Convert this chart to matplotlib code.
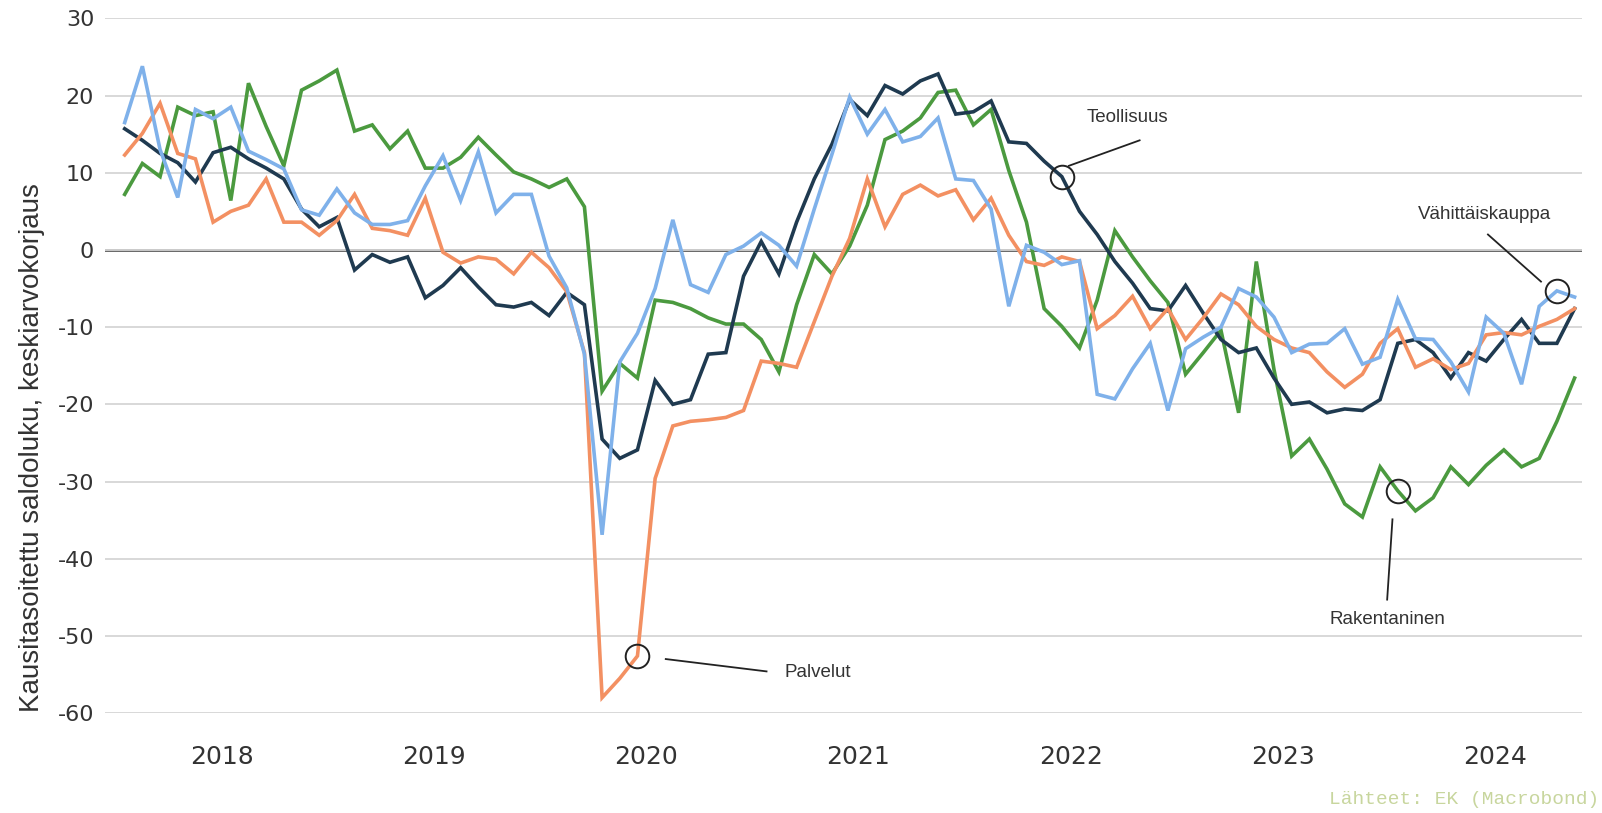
import numpy as np
import matplotlib
matplotlib.use("Agg")
import matplotlib.pyplot as plt

# ---- data (monthly, Jan 2018 – Nov 2024) ----
years = ["2018", "2019", "2020", "2021", "2022", "2023", "2024"]

teollisuus = [15.7, 14.2, 12.5, 11.3, 8.8, 12.6, 13.3, 11.8, 10.6, 9.2,
              5.3, 3.0, 4.2, -2.6, -0.6, -1.6, -0.9, -6.2, -4.6, -2.3,
              -4.8, -7.1, -7.4, -6.8, -8.5, -5.5, -7.1, -24.5, -27.0, -25.9,
              -16.9, -20.0, -19.4, -13.5, -13.3, -3.4, 1.1, -3.1, 3.6, 9.2,
              13.7, 19.5, 17.4, 21.3, 20.2, 21.9, 22.8, 17.6, 17.9, 19.3,
              14.0, 13.8, 11.5, 9.5, 5.0, 2.0, -1.5, -4.3, -7.6, -7.9,
              -4.6, -8.2, -11.6, -13.3, -12.7, -16.6, -20.0, -19.7, -21.1, -20.6,
              -20.8, -19.4, -12.1, -11.6, -13.3, -16.6, -13.3, -14.4, -11.6, -9.0,
              -12.1, -12.1, -7.6]

palvelut = [12.3, 15.1, 19.0, 12.5, 11.8, 3.6, 5.0, 5.8, 9.2, 3.6,
            3.6, 1.9, 3.8, 7.2, 2.8, 2.5, 1.9, 6.7, -0.3, -1.7,
            -0.9, -1.2, -3.1, -0.3, -2.3, -5.4, -13.3, -58.0, -55.5, -52.6,
            -29.6, -22.8, -22.2, -22.0, -21.7, -20.8, -14.4, -14.7, -15.2, -9.3,
            -3.4, 1.5, 9.2, 3.0, 7.2, 8.4, 7.0, 7.8, 3.9, 6.7,
            1.9, -1.5, -2.0, -0.9, -1.5, -10.2, -8.5, -6.0, -10.2, -7.6,
            -11.6, -8.8, -5.7, -7.1, -9.9, -11.6, -12.7, -13.3, -15.8, -17.8,
            -16.1, -12.1, -10.2, -15.2, -14.1, -15.5, -14.7, -11.0, -10.7, -11.0,
            -9.9, -9.0, -7.6]

rakentaminen = [7.2, 11.2, 9.5, 18.5, 17.4, 17.9, 6.4, 21.6, 16.0, 10.9,
                20.7, 21.9, 23.3, 15.4, 16.2, 13.1, 15.4, 10.6, 10.6, 12.0,
                14.6, 12.3, 10.1, 9.2, 8.1, 9.2, 5.6, -18.3, -14.7, -16.6,
                -6.5, -6.8, -7.6, -8.8, -9.6, -9.6, -11.6, -15.8, -7.1, -0.6,
                -3.1, 0.5, 5.8, 14.3, 15.4, 17.1, 20.4, 20.7, 16.2, 18.2,
                10.3, 3.6, -7.6, -9.9, -12.7, -6.5, 2.5, -0.9, -4.0, -6.8,
                -16.1, -13.3, -10.4, -21.1, -1.5, -15.5, -26.7, -24.5, -28.4, -32.9,
                -34.6, -28.1, -31.2, -33.8, -32.1, -28.1, -30.4, -27.9, -25.9, -28.1,
                -27.0, -22.2, -16.6]

vahittaiskauppa = [16.5, 23.8, 13.0, 6.8, 18.2, 17.0, 18.5, 12.8, 11.7, 10.5,
                   5.2, 4.5, 7.9, 4.8, 3.3, 3.3, 3.8, 8.3, 12.2, 6.4,
                   12.7, 4.8, 7.2, 7.2, -0.8, -4.9, -13.5, -36.9, -14.5, -10.8,
                   -5.0, 3.9, -4.5, -5.5, -0.6, 0.5, 2.2, 0.6, -2.1, 5.3,
                   12.4, 19.8, 15.0, 18.2, 14.0, 14.7, 17.1, 9.2, 9.0, 5.3,
                   -7.3, 0.6, -0.3, -1.9, -1.4, -18.7, -19.3, -15.4, -12.1, -20.8,
                   -12.8, -11.3, -10.0, -5.0, -6.1, -8.7, -13.3, -12.2, -12.1, -10.2,
                   -14.8, -13.9, -6.4, -11.5, -11.6, -14.5, -18.4, -8.7, -10.8, -17.4,
                   -7.3, -5.3, -6.1]

series_names = ["Teollisuus", "Palvelut", "Rakentaninen", "Vähittäiskauppa"]
yticks = [30, 20, 10, 0, -10, -20, -30, -40, -50, -60]

# ---- styling ----
C_NAVY = "#1f3a50"
C_ORANGE = "#f39062"
C_GREEN = "#4b9a3f"
C_BLUE = "#7fb1ea"
TXT = "#333333"

fig = plt.figure(figsize=(16.02, 8.13), dpi=100)
ax = fig.add_axes([0.0657, 0.1229, 0.9216, 0.8545])

x = np.arange(len(teollisuus))

ax.set_xlim(-1.1, 82.4)
ax.set_ylim(-60, 30)

for s in ax.spines.values():
    s.set_visible(False)

ax.set_yticks(yticks)
ax.set_yticklabels([str(v) for v in yticks])
ax.grid(axis="y", color="#d6d6d6", lw=1.3, zorder=0)
ax.axhline(0, color="#3a3a3a", lw=1.8, zorder=1)

year_pos = [12 * k + 5.5 for k in range(len(years))]
ax.set_xticks(year_pos)
ax.set_xticklabels(years)
ax.tick_params(axis="x", length=0, pad=23, labelsize=18, labelcolor=TXT)
ax.tick_params(axis="y", length=0, pad=8, labelsize=16, labelcolor=TXT)

lw = 2.6
ax.plot(x, rakentaminen, color=C_GREEN, lw=lw, zorder=3, solid_joinstyle="miter")
ax.plot(x, teollisuus, color=C_NAVY, lw=lw, zorder=4, solid_joinstyle="miter")
ax.plot(x, palvelut, color=C_ORANGE, lw=lw, zorder=5, solid_joinstyle="miter")
ax.plot(x, vahittaiskauppa, color=C_BLUE, lw=lw, zorder=6, solid_joinstyle="miter")

# ---- annotations ----
ann_font = dict(family=["Liberation Sans", "DejaVu Sans"], fontsize=13.5, color=TXT)
circ = dict(marker="o", ms=17, mfc="none", mec="#222222", mew=1.4, ls="none", zorder=8)
lead = dict(color="#222222", lw=1.3, zorder=7)

# Teollisuus
i = 53
ax.plot([i], [teollisuus[i]], **circ)
ax.plot([53.4, 57.4], [10.9, 14.2], **lead)
ax.text(56.7, 17.2, series_names[0], ha="center", va="center", zorder=9, **ann_font)

# Palvelut
i = 29
ax.plot([i], [palvelut[i]], **circ)
ax.plot([30.6, 36.3], [-53.0, -54.6], **lead)
ax.text(39.2, -54.7, series_names[1], ha="center", va="center", zorder=9, **ann_font)

# Rakentaninen
i = 72
ax.plot([i], [rakentaminen[i]], **circ)
ax.plot([71.7, 71.4], [-34.9, -45.3], **lead)
ax.text(71.4, -47.9, series_names[2], ha="center", va="center", zorder=9,
        bbox=dict(boxstyle="square,pad=0.25", fc="white", ec="none"), **ann_font)

# Vähittäiskauppa
i = 81
ax.plot([i], [vahittaiskauppa[i]], **circ)
ax.plot([77.1, 80.1], [2.0, -4.1], **lead)
ax.text(76.9, 4.6, series_names[3], ha="center", va="center", zorder=9, **ann_font)

# ---- axis title and source ----
fig.text(0.020, 1 - 448 / 813, "Kausitasoitettu saldoluku, keskiarvokorjaus",
         rotation=90, ha="center", va="center", fontsize=20, color=TXT,
         family=["Liberation Sans Narrow", "Liberation Sans", "DejaVu Sans"])
fig.text(0.998, 1 - 783 / 796, "Lähteet: EK (Macrobond)", ha="right", va="center",
         fontsize=14, color="#c8d69e", family=["Liberation Mono", "DejaVu Sans Mono"])

fig.savefig("out.png", dpi=100)
